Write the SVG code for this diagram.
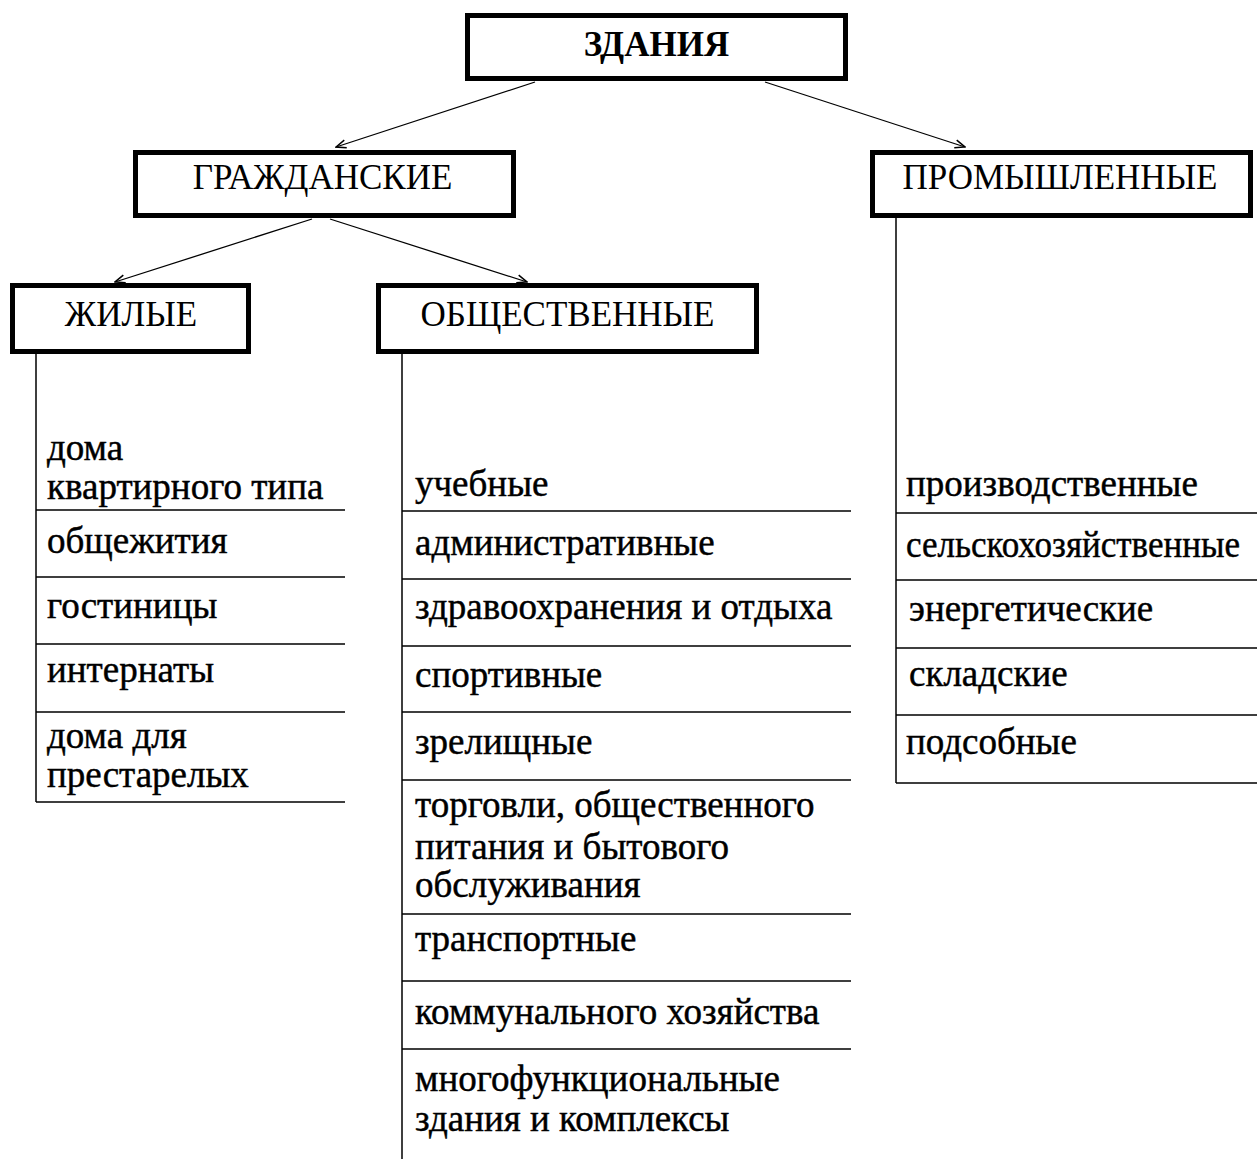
<svg xmlns="http://www.w3.org/2000/svg" width="1257" height="1159" viewBox="0 0 1257 1159" font-family="Liberation Serif, Times New Roman, serif">
<defs>
<style>
.box{fill:#fff;stroke:#000;stroke-width:5}
.t{fill:#000}
.title{font-size:35px;text-anchor:middle}
.item{font-size:37px;stroke:#000;stroke-width:0.45}
.ln{stroke:#000;stroke-width:1.5;fill:none}
.arr{stroke:#000;stroke-width:1.3;fill:none;marker-end:url(#ah)}
</style>
<marker id="ah" viewBox="0 0 12 10" refX="11" refY="5" markerWidth="12" markerHeight="10" markerUnits="userSpaceOnUse" orient="auto">
<path d="M1,1 L11,5 L1,9" fill="none" stroke="#000" stroke-width="1.5"/>
</marker>
</defs>
<rect width="1257" height="1159" fill="#fff"/>
<g id="connectors">
<line class="arr" x1="535" y1="82" x2="336" y2="147"/>
<line class="arr" x1="765" y1="82" x2="965" y2="147"/>
<line class="arr" x1="312" y1="219" x2="115" y2="282"/>
<line class="arr" x1="330" y1="219" x2="527" y2="282"/>
</g>
<g id="node-zdaniya">
<rect class="box" x="467.5" y="15.5" width="378" height="63"/>
<text class="t title" x="656.5" y="56" font-weight="bold" font-size="35">ЗДАНИЯ</text>
</g>
<g id="node-grazhdanskie">
<rect class="box" x="135.5" y="152.5" width="378" height="63"/>
<text class="t title" x="322.5" y="189">ГРАЖДАНСКИЕ</text>
</g>
<g id="node-promyshlennye">
<rect class="box" x="872.5" y="152.5" width="378" height="63"/>
<text class="t title" x="1060" y="189">ПРОМЫШЛЕННЫЕ</text>
</g>
<g id="node-zhilye">
<rect class="box" x="12.5" y="285.5" width="236" height="66"/>
<text class="t title" x="131" y="326">ЖИЛЫЕ</text>
</g>
<g id="node-obshchestvennye">
<rect class="box" x="378.5" y="285.5" width="378" height="66"/>
<text class="t title" x="567.5" y="326">ОБЩЕСТВЕННЫЕ</text>
</g>
<g id="list-zhilye">
<path class="ln" d="M36,354 V802 M36,510 H345 M36,577 H345 M36,644 H345 M36,712 H345 M36,802 H345"/>
<text class="t item" x="47" y="460">дома</text>
<text class="t item" x="47" y="499">квартирного типа</text>
<text class="t item" x="47" y="553">общежития</text>
<text class="t item" x="47" y="618">гостиницы</text>
<text class="t item" x="47" y="682">интернаты</text>
<text class="t item" x="47" y="748">дома для</text>
<text class="t item" x="47" y="787">престарелых</text>
</g>
<g id="list-obshchestvennye">
<path class="ln" d="M402,354 V1159 M402,511 H851 M402,579 H851 M402,646 H851 M402,712 H851 M402,780 H851 M402,914 H851 M402,981 H851 M402,1049 H851"/>
<text class="t item" x="415" y="496">учебные</text>
<text class="t item" x="415" y="555">административные</text>
<text class="t item" x="415" y="619">здравоохранения и отдыха</text>
<text class="t item" x="415" y="687">спортивные</text>
<text class="t item" x="415" y="754">зрелищные</text>
<text class="t item" x="415" y="817">торговли, общественного</text>
<text class="t item" x="415" y="859">питания и бытового</text>
<text class="t item" x="415" y="897">обслуживания</text>
<text class="t item" x="415" y="951">транспортные</text>
<text class="t item" x="415" y="1024">коммунального хозяйства</text>
<text class="t item" x="415" y="1091">многофункциональные</text>
<text class="t item" x="415" y="1131">здания и комплексы</text>
</g>
<g id="list-promyshlennye">
<path class="ln" d="M896,218 V783 M896,513 H1257 M896,580 H1257 M896,648 H1257 M896,715 H1257 M896,783 H1257"/>
<text class="t item" x="906" y="496">производственные</text>
<text class="t item" x="906" y="557" textLength="334" lengthAdjust="spacingAndGlyphs">сельскохозяйственные</text>
<text class="t item" x="909" y="621">энергетические</text>
<text class="t item" x="909" y="686">складские</text>
<text class="t item" x="906" y="754">подсобные</text>
</g>
</svg>
